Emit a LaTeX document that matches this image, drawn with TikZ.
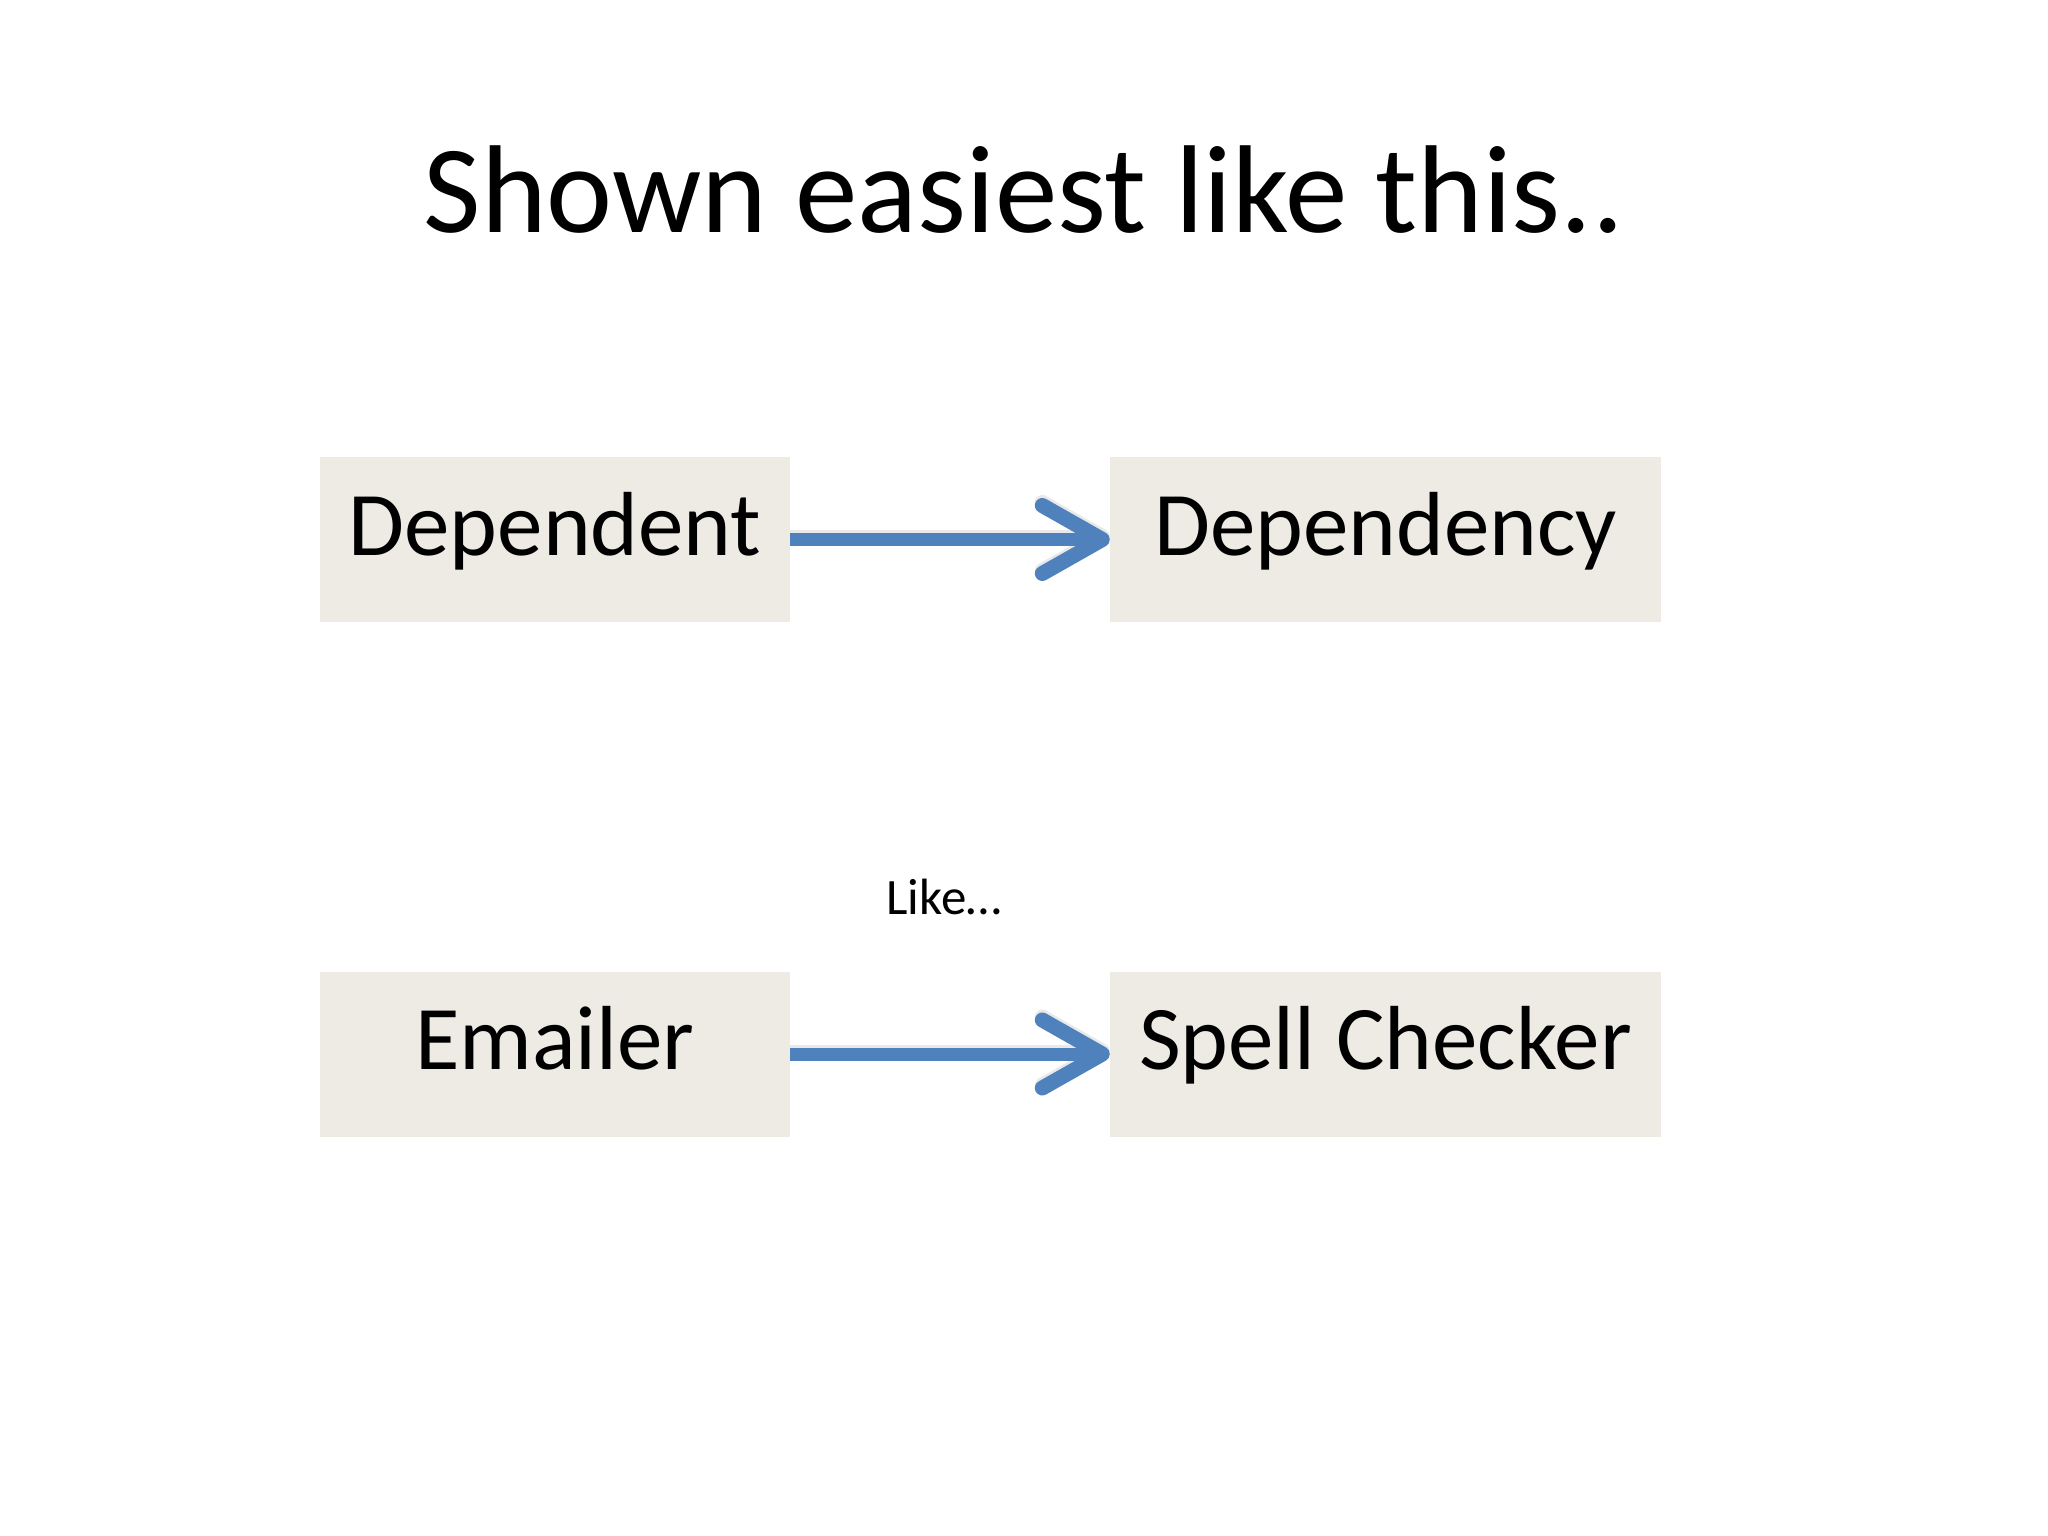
\documentclass[tikz,border=0pt]{standalone}
\usepackage{fontspec}
\setmainfont{Carlito}
\usetikzlibrary{arrows.meta}
\definecolor{boxfill}{HTML}{EEEBE4}
\definecolor{arrblue}{HTML}{4F81BD}
\tikzset{
  box/.style={fill=boxfill, draw=none, inner sep=0pt, minimum width=#1, minimum height=165pt,
    text height=60pt, text depth=29pt, font=\fontsize{91}{100}\selectfont},
  link/.style={draw=arrblue, line width=13pt, -{Straight Barb[length=60pt,width=68pt,line width=15pt,round]}},
  shade/.style={draw=black!35, opacity=.25, line width=13pt, -{Straight Barb[length=60pt,width=68pt,line width=15pt,round]}}
}
\begin{document}
\begin{tikzpicture}[x=1pt,y=-1pt]
\useasboundingbox (0,0) rectangle (2048,1536);
\node[anchor=base, font=\fontsize{125}{140}\selectfont] (title) at (1024,232) {Shown easiest like this..};
\node[box=470pt] (dep) at (555,539.5) {Dependent};
\node[box=551pt] (dcy) at (1385.5,539.5) {Dependency};
\node[anchor=base, font=\fontsize{51}{60}\selectfont] (like) at (944,914) {Like…};
\node[box=470pt] (em) at (555,1054) {Emailer};
\node[box=551pt] (sc) at (1385.5,1054) {Spell Checker};
\draw[shade] ([yshift=3pt]dep.east) -- ([yshift=3pt]dcy.west);
\draw[shade] ([yshift=3pt]em.east) -- ([yshift=3pt]sc.west);
\draw[link] (dep.east) -- (dcy.west);
\draw[link] (em.east) -- (sc.west);
\end{tikzpicture}
\end{document}
